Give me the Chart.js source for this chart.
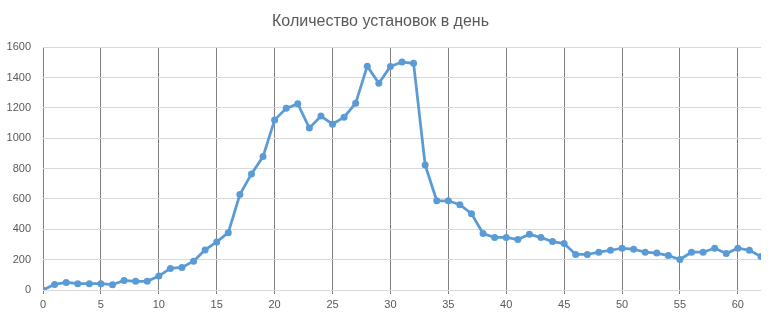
<!DOCTYPE html>
<html>
<head>
<meta charset="utf-8">
<script src="https://cdn.jsdelivr.net/npm/chart.js@4"></script>
<style>
html,body{margin:0;padding:0;background:#fff;}
#wrap{width:779px;height:321px;}
</style>
</head>
<body>
<div id="wrap"><canvas id="installsChart"></canvas></div>
<script>
const days = [];
for (let d = 0; d <= 62; d++) days.push(d);

const installs = [
0, 37, 50, 42, 42, 42, 35, 63, 57, 57,
92, 142, 149, 190, 264, 317, 378, 629, 765, 879,
1121, 1197, 1228, 1067, 1146, 1093, 1139, 1231, 1475, 1362,
1473, 1502, 1494, 824, 588, 588, 562, 503, 372, 346,
346, 332, 367, 346, 319, 306, 234, 234, 249, 262,
275, 269, 249, 243, 227, 201, 249, 249, 275, 240,
275, 262, 221
];

const yTicks = [0, 200, 400, 600, 800, 1000, 1200, 1400, 1600];
const xTicks = [0, 5, 10, 15, 20, 25, 30, 35, 40, 45, 50, 55, 60];

const ctx = document.getElementById("installsChart");

new Chart(ctx, {
type: 'line',
data: {
datasets: [{
label: 'Установки',
data: days.map((d, i) => ({ x: d, y: installs[i] })),
borderColor: '#5b9bd5',
backgroundColor: '#5b9bd5',
borderWidth: 2.75,
pointRadius: 3.5,
pointBorderWidth: 0,
pointHoverRadius: 3.5,
tension: 0
}]
},
options: {
responsive: true,
maintainAspectRatio: false,
animation: false,
layout: { padding: { left: 0, right: 18, top: 6, bottom: 0 } },
plugins: {
legend: { display: false },
tooltip: { enabled: false },
title: {
display: true,
text: 'Количество установок в день',
color: '#595959',
font: { family: 'Liberation Sans', size: 16, weight: 'normal' },
padding: { top: 6, bottom: 16 }
}
},
scales: {
x: {
type: 'linear',
min: 0,
max: 62,
afterBuildTicks: axis => { axis.ticks = xTicks.map(v => ({ value: v })); },
afterFit: axis => { axis.height = 31; },
grid: { color: '#808080', lineWidth: 1, drawTicks: true, tickLength: 4 },
border: { display: false },
ticks: { color: '#595959', font: { family: 'Liberation Sans', size: 11 }, padding: 4, maxRotation: 0 }
},
y: {
min: 0,
max: 1600,
afterBuildTicks: axis => { axis.ticks = yTicks.map(v => ({ value: v })); },
afterFit: axis => { axis.width = 43; },
grid: { color: '#d9d9d9', lineWidth: 1, drawTicks: false },
border: { display: false },
ticks: {
color: '#595959',
font: { family: 'Liberation Sans', size: 11 },
padding: 12,
callback: v => String(v)
}
}
}
}
});
</script>
</body>
</html>
